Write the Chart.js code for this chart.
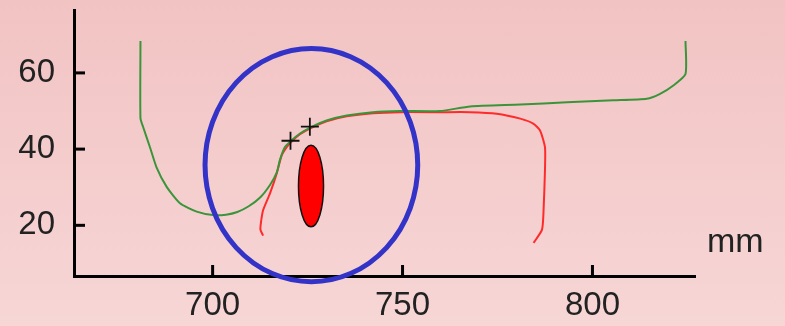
<!DOCTYPE html>
<html>
<head>
<meta charset="utf-8">
<script src="https://cdn.jsdelivr.net/npm/chart.js@4.4.1/dist/chart.umd.min.js"></script>
<style>
  html, body { margin: 0; padding: 0; }
  body { width: 785px; height: 326px; background: linear-gradient(to bottom, #f2c3c3, #f7d6d6); overflow: hidden; }
  #wrap { position: relative; width: 785px; height: 326px; }
</style>
</head>
<body>
<div id="wrap"><canvas id="profile" width="785" height="326"></canvas></div>
<script>
// curve readings (x in mm, y in value units)
const greenX = [681.0, 681.0, 681.7, 683.5, 685.2, 687.9, 691.4, 695.8, 700.1, 703.5, 706.5, 709.5, 712.5, 715.1, 716.9, 717.7, 719.0, 720.8, 723.0, 725.6, 730.0, 735.3, 742.2, 749.3, 759.9, 767.8, 781.0, 793.3, 805.5, 814.3, 817.8, 821.3, 824.5, 824.5];
const greenY = [68.4, 48.1, 45.8, 40.5, 35.3, 30.1, 25.8, 23.6, 22.7, 22.8, 23.5, 25.0, 27.3, 30.6, 33.9, 37.1, 40.5, 42.3, 44.1, 45.6, 47.5, 48.8, 49.7, 50.0, 50.0, 51.2, 51.7, 52.3, 52.8, 53.2, 54.5, 56.7, 59.7, 68.4];

const redX = [713.3, 712.6, 712.7, 713.3, 715.1, 716.9, 718.2, 719.5, 720.8, 723.0, 725.6, 730.0, 735.3, 742.2, 749.3, 759.9, 767.8, 774.8, 781.0, 784.4, 786.2, 787.5, 787.5, 787.1, 786.7, 784.5];
const redY = [17.3, 18.8, 20.6, 24.0, 28.4, 33.7, 38.4, 40.5, 42.0, 43.9, 45.4, 47.3, 48.6, 49.4, 49.7, 49.7, 49.7, 49.3, 48.0, 46.7, 44.9, 40.5, 34.5, 23.2, 18.8, 15.4];

const markX = [720.5, 725.6];
const markY = [42.2, 45.9];

// ellipses: center and radii in data units
const zoneCenter = [726.0, 35.8];
const zoneRadius = [28.0, 30.6];
const coreCenter = [725.9, 30.3];
const coreRadius = [3.3, 10.7];

const xTicks = [700, 750, 800];
const yTicks = [20, 40, 60];
const xRange = [663.5, 827];
const yRange = [6.7, 76.3];
const unitLabel = 'mm';

const toPts = (xs, ys) => xs.map((x, i) => ({ x: x, y: ys[i] }));
const labelFont = { family: "'Liberation Sans', Arial, sans-serif", size: 33 };

// axis ticks point inward, plus the ellipses and unit label
const overlay = {
    id: 'overlay',
    afterDatasetsDraw(chart) {
        const ctx = chart.ctx;
        const xs = chart.scales.x, ys = chart.scales.y;
        const area = chart.chartArea;

        ctx.save();
        ctx.strokeStyle = '#000';
        ctx.lineWidth = 3;
        xTicks.forEach(v => {
            const px = xs.getPixelForValue(v);
            ctx.beginPath();
            ctx.moveTo(px, area.bottom);
            ctx.lineTo(px, area.bottom - 11);
            ctx.stroke();
        });
        yTicks.forEach(v => {
            const py = ys.getPixelForValue(v);
            ctx.beginPath();
            ctx.moveTo(area.left, py);
            ctx.lineTo(area.left + 11, py);
            ctx.stroke();
        });

        // red core ellipse
        const cx = xs.getPixelForValue(coreCenter[0]);
        const cy = ys.getPixelForValue(coreCenter[1]);
        const crx = Math.abs(xs.getPixelForValue(coreCenter[0] + coreRadius[0]) - cx);
        const cry = Math.abs(ys.getPixelForValue(coreCenter[1] + coreRadius[1]) - cy);
        ctx.beginPath();
        ctx.ellipse(cx, cy, crx, cry, 0, 0, Math.PI * 2);
        ctx.fillStyle = '#ff0000';
        ctx.fill();
        ctx.lineWidth = 1.5;
        ctx.strokeStyle = '#111';
        ctx.stroke();

        // blue zone circle
        const zx = xs.getPixelForValue(zoneCenter[0]);
        const zy = ys.getPixelForValue(zoneCenter[1]);
        const zrx = Math.abs(xs.getPixelForValue(zoneCenter[0] + zoneRadius[0]) - zx);
        const zry = Math.abs(ys.getPixelForValue(zoneCenter[1] + zoneRadius[1]) - zy);
        ctx.beginPath();
        ctx.ellipse(zx, zy, zrx, zry, 0, 0, Math.PI * 2);
        ctx.lineWidth = 5;
        ctx.strokeStyle = '#3333c8';
        ctx.stroke();

        ctx.fillStyle = '#222';
        ctx.font = "34px 'Liberation Sans', Arial, sans-serif";
        ctx.textAlign = 'left';
        ctx.textBaseline = 'alphabetic';
        ctx.fillText(unitLabel, 707, 252);
        ctx.restore();
    }
};

const noPad = s => { s.paddingTop = 0; s.paddingBottom = 0; s.paddingLeft = 0; s.paddingRight = 0; };

new Chart(document.getElementById('profile'), {
    type: 'scatter',
    data: {
        datasets: [
            {
                data: toPts(markX, markY),
                pointStyle: 'cross',
                pointRadius: 9,
                borderColor: '#111',
                borderWidth: 1.8
            },
            {
                data: toPts(greenX, greenY),
                showLine: true,
                borderColor: '#3a953a',
                borderWidth: 2,
                pointRadius: 0,
                tension: 0.2
            },
            {
                data: toPts(redX, redY),
                showLine: true,
                borderColor: '#ff2a2a',
                borderWidth: 2,
                pointRadius: 0,
                tension: 0.2
            }
        ]
    },
    options: {
        responsive: false,
        animation: false,
        layout: { padding: { top: 10, right: 90, bottom: 0, left: 0 } },
        plugins: { legend: { display: false }, tooltip: { enabled: false } },
        scales: {
            x: {
                type: 'linear',
                min: xRange[0], max: xRange[1],
                afterBuildTicks: s => { s.ticks = xTicks.map(v => ({ value: v })); },
                afterFit: s => { s.height = 50; noPad(s); },
                grid: { display: false, drawTicks: false },
                border: { display: true, color: '#000', width: 3 },
                ticks: { color: '#222', font: labelFont, padding: 10, maxRotation: 0 }
            },
            y: {
                type: 'linear',
                min: yRange[0], max: yRange[1],
                afterBuildTicks: s => { s.ticks = yTicks.map(v => ({ value: v })); },
                afterFit: s => { s.width = 74; noPad(s); },
                grid: { display: false, drawTicks: false },
                border: { display: true, color: '#000', width: 3 },
                ticks: { color: '#222', font: labelFont, padding: 19 }
            }
        }
    },
    plugins: [overlay]
});
</script>
</body>
</html>
